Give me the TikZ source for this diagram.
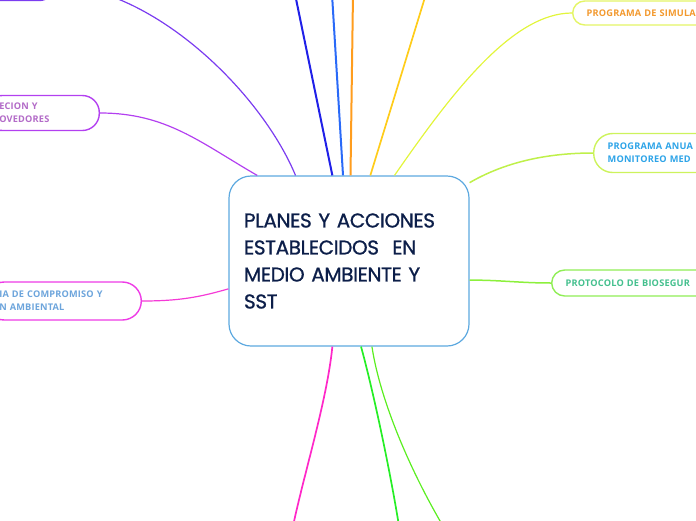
\documentclass[tikz,border=0pt]{standalone}
\usepackage{fontspec}
\setmainfont{Open Sans}
\newfontfamily\topicfont{Poppins}[FakeBold=0.9, LetterSpace=-2]
\newfontfamily\branchfont{Open Sans}[LetterSpace=2]
\usetikzlibrary{shapes.geometric, positioning}

\definecolor{topicline}{HTML}{5DA9E0}
\definecolor{topictext}{HTML}{0C1E49}
\definecolor{violet}{HTML}{7B3CF0}
\definecolor{darkblue}{HTML}{2020E8}
\definecolor{midblue}{HTML}{2A6AF8}
\definecolor{orangeline}{HTML}{FF9D1E}
\definecolor{goldline}{HTML}{FFCC1A}
\definecolor{limeline}{HTML}{E2F53C}
\definecolor{lightgreen}{HTML}{BFF04A}
\definecolor{grassline}{HTML}{8CF03C}
\definecolor{pinkline}{HTML}{F53AD6}
\definecolor{magentaline}{HTML}{FF28C8}
\definecolor{greenline}{HTML}{26EE26}
\definecolor{greenline2}{HTML}{5AEE20}
\definecolor{purpleline}{HTML}{B340F0}
\definecolor{purpletext}{HTML}{B36BC8}
\definecolor{pinkbox}{HTML}{EE3BE6}
\definecolor{skytext}{HTML}{6DA5DC}
\definecolor{limebox}{HTML}{E4F566}
\definecolor{orangetext}{HTML}{F3992E}
\definecolor{greenbox}{HTML}{CDF35C}
\definecolor{bluetext}{HTML}{2DA4E8}
\definecolor{grassbox}{HTML}{90EE56}
\definecolor{tealtext}{HTML}{44C08E}

\begin{document}
\begin{tikzpicture}[
    x=1pt, y=-1pt,
    topic/.style={rectangle, rounded corners=22pt, draw=topicline, line width=1.2pt, fill=white, minimum width=240pt, minimum height=170pt, inner xsep=15pt, text width=210pt, align=left, text=topictext, font=\topicfont\fontsize{20}{27}\selectfont},
    subtopic/.style={rectangle, fill=white, line width=1.4pt, inner xsep=14pt, inner ysep=0pt, align=left, font=\branchfont\bfseries\fontsize{9.2}{13}\selectfont},
    branch/.style={line width=#1},
    branch/.default=1.3pt,
]

\useasboundingbox (0,0) rectangle (696,520);
\clip (0,0) rectangle (696,520);

% Free ends of the branches leaving the page
\coordinate (up1) at (295,-6);
\coordinate (up2) at (332,-6);
\coordinate (up3) at (353,-6);
\coordinate (up4) at (426,-6);
\coordinate (down1) at (293,526);
\coordinate (down2) at (399,526);
\coordinate (down3) at (443,526);

% Central topic
\node[topic] (main) at (349,261) {PLANES Y ACCIONES\\ESTABLECIDOS\ \ EN\\MEDIO AMBIENTE Y\\SST};

% Subtopics on the left
\node[subtopic, draw=violet, anchor=east, minimum width=120pt, minimum height=30pt, rounded corners=15pt] (hidden) at (55,-14.5) {};
\node[subtopic, draw=purpleline, text=purpletext, anchor=east, text width=86pt, minimum height=35pt, rounded corners=17pt] (provee) at (100,113) {ECION Y\\OVEDORES};
\node[subtopic, draw=pinkbox, text=skytext, anchor=east, text width=128pt, minimum height=38pt, rounded corners=19pt] (compro) at (142,301) {IA DE COMPROMISO Y\\N AMBIENTAL};

% Subtopics on the right
\node[subtopic, draw=limebox, text=orangetext, anchor=west, text width=180pt, minimum height=24pt, rounded corners=12pt] (simula) at (572,13) {PROGRAMA DE SIMULA};
\node[subtopic, draw=greenbox, text=bluetext, anchor=west, text width=180pt, minimum height=39pt, rounded corners=19pt] (anual) at (593,153) {PROGRAMA ANUA\\MONITOREO MED};
\node[subtopic, draw=grassbox, text=tealtext, anchor=west, text width=200pt, minimum height=26pt, rounded corners=13pt] (bioseg) at (551,283) {PROTOCOLO DE BIOSEGUR};

% Branches
\begin{scope}
\draw[branch=1.2pt, violet] (hidden.east) .. controls (150,-14.5) and (260,90) .. (main.122);
\draw[branch=1.2pt, purpleline] (provee.east) to[out=0, in=150] (main.137);
\draw[branch=2pt, darkblue] (main.101) -- (up1);
\draw[branch=2pt, midblue] (main.94) -- (up2);
\draw[branch=2pt, orangeline] (main.89) -- (up3);
\draw[branch=1.7pt, goldline] (main.76) -- (up4);
\draw[branch=1.2pt, limeline] (simula.west) .. controls (512,13) and (451,94) .. (main.62);
\draw[branch=1.5pt, lightgreen] (anual.west) .. controls (540,153) and (500,165) .. (main.33);
\draw[branch=1.5pt, grassline] (bioseg.west) .. controls (520,283) and (500,280) .. (main.351.5);
\draw[branch=1.2pt, pinkline] (compro.east) .. controls (180,301) and (200,297) .. (main.193.6);
\draw[branch=1.7pt, magentaline] (main.259.3) .. controls (327,400) and (305,470) .. (down1);
\draw[branch=1.7pt, greenline] (main.278.7) .. controls (373,390) and (390,470) .. (down2);
\draw[branch=1.2pt, greenline2] (main.285.1) .. controls (380,400) and (410,470) .. (down3);
\end{scope}

\end{tikzpicture}
\end{document}
